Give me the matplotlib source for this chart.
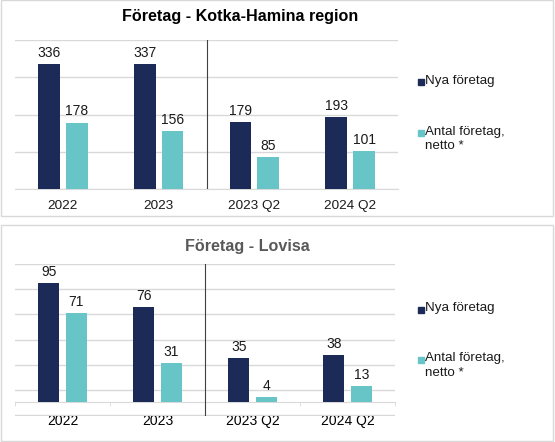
import matplotlib
matplotlib.use("Agg")
from matplotlib import pyplot as plt
from matplotlib.patches import Rectangle

plt.rcParams["font.family"] = ["Liberation Sans", "DejaVu Sans"]

W, H = 555, 442
NAVY = "#1B2A56"
TEAL = "#67C5C7"
GRID = "#D9D9D9"

categories = ["2022", "2023", "2023 Q2", "2024 Q2"]
series_names = ["Nya företag", "Antal företag,\nnetto *"]

kotka_new = [336, 337, 179, 193]
kotka_net = [178, 156, 85, 101]

lovisa_new = [95, 76, 35, 38]
lovisa_net = [71, 31, 4, 13]


def px_axes(fig, left, top, right, bottom):
    return fig.add_axes([left / W, 1 - bottom / H, (right - left) / W, (bottom - top) / H])


def draw_panel(ax, new, net, ymin, ymax, step, zero_ticks):
    xs = range(len(categories))
    off, bw = 0.145, 0.225
    b1 = ax.bar([x - off for x in xs], new, bw, color=NAVY, zorder=3)
    b2 = ax.bar([x + off for x in xs], net, bw, color=TEAL, zorder=3)
    for bars in (b1, b2):
        for r in bars:
            ax.annotate(str(int(r.get_height())), (r.get_x() + r.get_width() / 2, r.get_height()),
                        xytext=(0, 3), textcoords="offset points", ha="center", va="bottom",
                        fontsize=10, color="#1a1a1a")
    ax.set_xlim(-0.5, len(categories) - 0.5)
    pad_y = (ymax - ymin) * 0.003
    ax.set_ylim(ymin - pad_y, ymax + pad_y)
    ax.set_yticks(range(ymin, ymax + 1, step))
    ax.yaxis.grid(True, color=GRID, lw=1, zorder=0)
    ax.tick_params(axis="y", left=False, labelleft=False)
    for s in ("top", "right", "left"):
        ax.spines[s].set_visible(False)
    ax.axvline(1.5, color="#404040", lw=0.8, zorder=4)
    ax.set_xticks(list(xs))
    ax.set_xticklabels(categories, fontsize=9.7, color="#1a1a1a")
    ax.spines["bottom"].set_color(GRID)
    if zero_ticks:
        ax.spines["bottom"].set_position(("data", 0))
        ax.tick_params(axis="x", which="major", length=0, pad=8)
        ax.set_xticks([x - 0.5 for x in range(len(categories) + 1)], minor=True)
        ax.tick_params(axis="x", which="minor", length=3, color=GRID)
    else:
        ax.tick_params(axis="x", length=0, pad=8)


def draw_legend(fig, y1, y2):
    for y, c, name in ((y1, NAVY, series_names[0]), (y2, TEAL, series_names[1])):
        fig.patches.append(Rectangle((418 / W, 1 - (y + 3) / H), 5.5 / W, 6 / H,
                                     transform=fig.transFigure, color=c))
        fig.text(425 / W, 1 - (y - 7.5) / H, name, fontsize=9.6, va="top", ha="left",
                 color="#1a1a1a", linespacing=1.3)


fig = plt.figure(figsize=(W / 100, H / 100), dpi=100)

# panel frames
fig.patches.append(Rectangle((1 / W, 1 - 216 / H), 552 / W, 216 / H, transform=fig.transFigure,
                             fill=False, ec=GRID, lw=1))
fig.patches.append(Rectangle((1 / W, 1 - 441 / H), 552 / W, 216 / H, transform=fig.transFigure,
                             fill=False, ec=GRID, lw=1))

ax1 = px_axes(fig, 15, 40, 398, 189)
draw_panel(ax1, kotka_new, kotka_net, 0, 400, 100, False)
fig.text(240 / W, 1 - 17 / H, "Företag - Kotka-Hamina region", ha="center", va="center",
         fontsize=11.6, fontweight="bold", color="#000000")
draw_legend(fig, 82, 133)

ax2 = px_axes(fig, 15, 263.7, 395, 415.5)
draw_panel(ax2, lovisa_new, lovisa_net, -10, 110, 20, True)
fig.text(247 / W, 1 - 247 / H, "Företag - Lovisa", ha="center", va="center",
         fontsize=11.6, fontweight="bold", color="#595959")
draw_legend(fig, 310, 360)

fig.savefig("out.png", dpi=100)
